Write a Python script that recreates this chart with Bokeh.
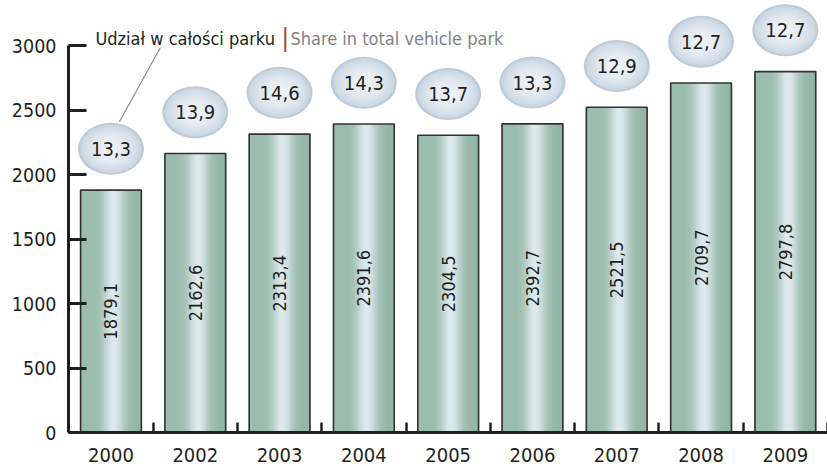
import numpy as np
from bokeh.plotting import figure
from bokeh.models import Range1d, FixedTicker, Label
from bokeh.embed import file_html
from bokeh.resources import INLINE
from bokeh.core.properties import value

# ---- data ----
years = ["2000", "2002", "2003", "2004", "2005", "2006", "2007", "2008", "2009"]
vehicles = [1879.1, 2162.6, 2313.4, 2391.6, 2304.5, 2392.7, 2521.5, 2709.7, 2797.8]
shares = [13.3, 13.9, 14.6, 14.3, 13.7, 13.3, 12.9, 12.7, 12.7]
y_ticks = [0, 500, 1000, 1500, 2000, 2500, 3000]
title_pl = "Udział w całości parku"
title_en = "Share in total vehicle park"

FONT = "DejaVu Sans Condensed"


def fmt(v):
    return f"{v:.1f}".replace(".", ",")


x = np.arange(len(years))
vals = np.array(vehicles)

p = figure(width=827, height=466, x_range=Range1d(-0.504, 8.5), y_range=Range1d(0, 3349),
           output_backend="svg", toolbar_location=None,
           min_border_left=68, min_border_right=0, min_border_top=0, min_border_bottom=34)
p.outline_line_color = None
p.grid.visible = False
p.background_fill_color = "white"
p.border_fill_color = "white"

# ---- bars with horizontal gradient (strips) ----
bw = 0.72
N = 30
base_l = np.array([155, 190, 176])
base_r = np.array([148, 182, 167])
hi = np.array([222, 233, 237])
for k in range(N):
    t = (k + 0.5) / N
    base = base_l * (1 - t) + base_r * t
    f = np.exp(-((t - 0.56) / 0.17) ** 2)
    c = base * (1 - f) + hi * f
    col = "#%02x%02x%02x" % tuple(int(round(v)) for v in c)
    p.vbar(x=x - bw / 2 + (k + 0.5) * bw / N, width=bw / N * 1.8, top=vals, bottom=0,
           fill_color=col, line_color=None)
p.vbar(x=x, width=bw, top=vals, bottom=0, fill_color=None, line_color="#333333", line_width=1.6)

# ---- bar value labels ----
p.text(x=x, y=vals / 2, text=[fmt(v) for v in vehicles], angle=np.pi / 2,
       text_align="center", text_baseline="middle", text_font=value(FONT),
       text_font_size="18px", text_color="#231f20")

# ---- share ellipses (radial gradient via concentric ellipses) ----
ell_y = vals + 320
edge = np.array([188, 203, 216])
center = np.array([238, 242, 246])
M = 12
for j in range(M):
    t = j / (M - 1)
    s = 1 - 0.8 * t
    c = edge * (1 - t ** 0.5) + center * t ** 0.5
    col = "#%02x%02x%02x" % tuple(int(round(v)) for v in c)
    p.ellipse(x=x, y=ell_y, width=66 * s, height=52 * s, width_units="screen",
              height_units="screen", fill_color=col, line_color=None)
p.text(x=x, y=ell_y, text=[fmt(v) for v in shares], text_align="center",
       text_baseline="middle", text_font=value(FONT), text_font_size="20px",
       text_color="#231f20")

# ---- title and leader line ----
p.line(x=[0.586, 0.1], y=[2985, ell_y[0] + 210], line_color="#8a8a8a", line_width=1.2)
p.add_layout(Label(x=0, y=3000, x_offset=-15.5, y_offset=7, text=title_pl, text_font=FONT,
                   text_font_size="18px", text_color="#231f20", text_baseline="alphabetic"))
p.add_layout(Label(x=0, y=3000, x_offset=170.5, y_offset=8, text="|", text_font=FONT,
                   text_font_size="25px", text_color="#a0463a", text_baseline="alphabetic"))
p.add_layout(Label(x=0, y=3000, x_offset=179.5, y_offset=7, text=title_en, text_font=FONT,
                   text_font_size="18px", text_color="#808285", text_baseline="alphabetic"))

# ---- axes ----
ya = p.yaxis[0]
ya.ticker = FixedTicker(ticks=y_ticks)
ya.bounds = (0, 3000)
ya.axis_line_width = 3
ya.axis_line_color = "#231f20"
ya.major_tick_in = 18
ya.major_tick_out = 0
ya.major_tick_line_width = 3
ya.major_tick_line_color = "#231f20"
ya.minor_tick_line_color = None
ya.major_label_text_font = FONT
ya.major_label_text_font_size = "19.5px"
ya.major_label_text_color = "#231f20"
ya.major_label_standoff = 12

xa = p.xaxis[0]
xa.ticker = FixedTicker(ticks=list(x), minor_ticks=list(x + 0.5))
xa.major_label_overrides = {int(i): yr for i, yr in zip(x, years)}
xa.axis_line_width = 3
xa.axis_line_color = "#231f20"
xa.major_tick_line_color = None
xa.minor_tick_in = 10
xa.minor_tick_out = 0
xa.minor_tick_line_width = 2.5
xa.minor_tick_line_color = "#231f20"
xa.major_label_text_font = FONT
xa.major_label_text_font_size = "20px"
xa.major_label_text_color = "#231f20"
xa.major_label_standoff = 9

open("out.html", "w").write(file_html(p, INLINE))
